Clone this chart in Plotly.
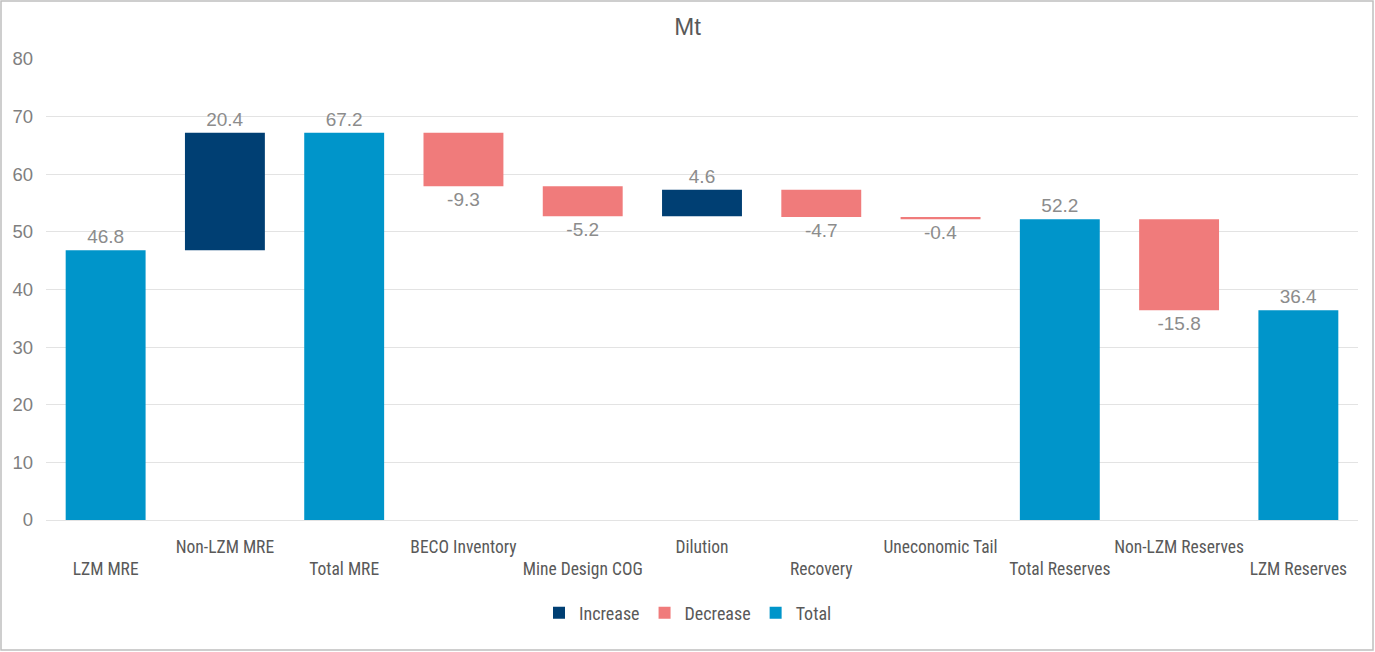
import plotly.graph_objects as go

categories = ["LZM MRE", "Non-LZM MRE", "Total MRE", "BECO Inventory", "Mine Design COG",
              "Dilution", "Recovery", "Uneconomic Tail", "Total Reserves",
              "Non-LZM Reserves", "LZM Reserves"]
values = [46.8, 20.4, 67.2, -9.3, -5.2, 4.6, -4.7, -0.4, 52.2, -15.8, 36.4]
kinds = ["total", "increase", "total", "decrease", "decrease", "increase",
         "decrease", "decrease", "total", "decrease", "total"]
yticks = [0, 10, 20, 30, 40, 50, 60, 70, 80]

colors = {"increase": "#003f73", "decrease": "#f07b7b", "total": "#0095ca"}
names = {"increase": "Increase", "decrease": "Decrease", "total": "Total"}

# compute bases
bases = []
running = 0.0
for v, k in zip(values, kinds):
    if k == "total":
        bases.append(0.0)
        running = v
    else:
        bases.append(running)
        running = running + v

W, H = 1375, 652
ml, mr, mt, mb = 46, 17, 59, 132
NARROW = "Liberation Sans Narrow, Roboto Condensed, Arial Narrow, Roboto"
pw = W - ml - mr
ph = H - mt - mb

fig = go.Figure()
for k in ["increase", "decrease", "total"]:
    ys = [v if kk == k else None for v, kk in zip(values, kinds)]
    bs = [b if kk == k else None for b, kk in zip(bases, kinds)]
    txt = [f"{v:.1f}" if kk == k else "" for v, kk in zip(values, kinds)]
    fig.add_trace(go.Bar(
        x=categories, y=ys, base=bs, name=names[k],
        marker=dict(color=colors[k], line=dict(width=0)),
        text=txt, textposition="outside", cliponaxis=False,
        textfont=dict(family="Liberation Sans, Arial", size=19, color="#8c8c8c"),
    ))

ticktext = [("<br>" + c) if i % 2 == 0 else c for i, c in enumerate(categories)]

fig.update_layout(
    width=W, height=H,
    margin=dict(l=ml, r=mr, t=mt, b=mb),
    paper_bgcolor="white", plot_bgcolor="white",
    barmode="overlay", bargap=0.33,
    title=dict(text="Mt", x=0.5, xanchor="center", y=1 - 27 / H, yanchor="middle",
               font=dict(family="Liberation Sans, Arial", size=24, color="#595959")),
    showlegend=True,
    legend=dict(orientation="h", x=0.5 - 14 / pw, xanchor="center", y=-(613 - 520) / ph,
                yanchor="middle",
                font=dict(family=NARROW, size=18, color="#595959"),
                itemwidth=30, traceorder="normal"),
    xaxis=dict(tickmode="array", tickvals=categories, ticktext=ticktext,
               tickfont=dict(family=NARROW, size=17.5, color="#595959"),
               showgrid=False, showline=False, ticks="", ticklabelstandoff=14,
               tickangle=0),
    yaxis=dict(range=[0, 80], tickvals=yticks, showgrid=True, gridcolor="#e3e3e3",
               gridwidth=1, zeroline=True, zerolinecolor="#e3e3e3", zerolinewidth=1,
               tickfont=dict(family="Liberation Sans, Arial", size=18.5, color="#7f7f7f"),
               ticklabelstandoff=12),
)

fig.add_shape(type="rect", xref="paper", yref="paper",
              x0=-(ml - 1) / pw, x1=1 + (mr - 2) / pw,
              y0=-(mb - 2) / ph, y1=1 + (mt - 1) / ph,
              line=dict(color="#bfbfbf", width=1.5), fillcolor="rgba(0,0,0,0)", layer="below")

fig.write_html("out.html", config={"displayModeBar": False},
               post_script="document.body.style.margin='0';document.body.style.overflow='hidden';")
